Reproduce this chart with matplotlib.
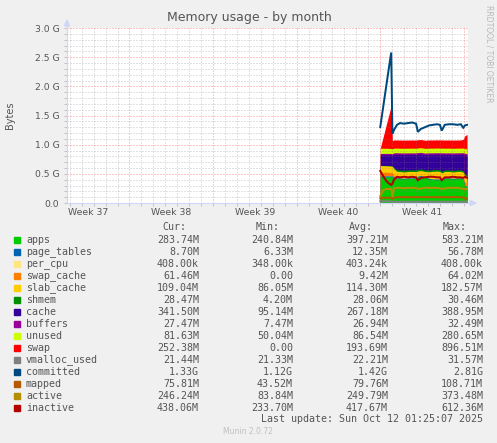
import numpy as np
import matplotlib
matplotlib.use("Agg")
import matplotlib.pyplot as plt
from matplotlib.lines import Line2D
from matplotlib.patches import Polygon, Rectangle

W, H = 497, 443

# time in days, day 0 = first day of week 38
days = [21.00, 21.25, 21.50, 21.75, 21.92, 22.02, 22.15, 22.40, 22.65, 23.00,
        23.33, 23.66, 24.00, 24.15, 24.40, 24.75, 25.10, 25.40, 25.75, 26.00,
        26.15, 26.40, 26.75, 27.10, 27.45, 27.75, 27.95, 28.10, 28.27]

# stacked areas (GiB)
apps = [0.450, 0.450, 0.450, 0.450, 0.450, 0.450, 0.430, 0.420, 0.420, 0.410,
        0.420, 0.420, 0.420, 0.450, 0.460, 0.440, 0.410, 0.400, 0.400, 0.400,
        0.390, 0.420, 0.420, 0.410, 0.420, 0.420, 0.400, 0.290, 0.280]
page_tables = [0.016, 0.016, 0.015, 0.015, 0.015, 0.015, 0.014, 0.012, 0.012, 0.012,
               0.012, 0.012, 0.012, 0.012, 0.012, 0.012, 0.012, 0.012, 0.012, 0.012,
               0.012, 0.012, 0.012, 0.012, 0.012, 0.012, 0.011, 0.009, 0.009]
per_cpu = [0.0004, 0.0004, 0.0004, 0.0004, 0.0004, 0.0004, 0.0004, 0.0004, 0.0004, 0.0004,
           0.0004, 0.0004, 0.0004, 0.0004, 0.0004, 0.0004, 0.0004, 0.0004, 0.0004, 0.0004,
           0.0004, 0.0004, 0.0004, 0.0004, 0.0004, 0.0004, 0.0004, 0.0004, 0.0004]
swap_cache = [0.060, 0.061, 0.062, 0.060, 0.058, 0.055, 0.030, 0.004, 0.003, 0.003,
              0.002, 0.003, 0.003, 0.003, 0.003, 0.002, 0.003, 0.003, 0.003, 0.003,
              0.004, 0.003, 0.003, 0.003, 0.003, 0.003, 0.010, 0.058, 0.060]
slab_cache = [0.115, 0.112, 0.110, 0.110, 0.108, 0.108, 0.110, 0.105, 0.104, 0.106,
              0.105, 0.105, 0.104, 0.082, 0.080, 0.085, 0.110, 0.128, 0.130, 0.126,
              0.110, 0.104, 0.105, 0.106, 0.105, 0.106, 0.106, 0.106, 0.106]
shmem = [0.005, 0.005, 0.005, 0.006, 0.006, 0.006, 0.020, 0.028, 0.028, 0.028,
         0.028, 0.028, 0.028, 0.028, 0.028, 0.028, 0.028, 0.028, 0.028, 0.028,
         0.028, 0.028, 0.028, 0.028, 0.028, 0.028, 0.028, 0.028, 0.028]
cache = [0.180, 0.182, 0.184, 0.184, 0.186, 0.186, 0.230, 0.265, 0.265, 0.272,
         0.265, 0.265, 0.265, 0.262, 0.258, 0.262, 0.270, 0.262, 0.262, 0.265,
         0.290, 0.265, 0.265, 0.272, 0.265, 0.265, 0.280, 0.335, 0.334]
buffers = [0.024, 0.024, 0.025, 0.025, 0.025, 0.025, 0.026, 0.027, 0.027, 0.027,
           0.027, 0.027, 0.027, 0.027, 0.027, 0.027, 0.027, 0.027, 0.027, 0.027,
           0.027, 0.027, 0.027, 0.027, 0.027, 0.027, 0.027, 0.027, 0.027]
unused = [0.090, 0.088, 0.087, 0.086, 0.085, 0.085, 0.080, 0.080, 0.080, 0.080,
          0.080, 0.080, 0.080, 0.080, 0.080, 0.080, 0.080, 0.080, 0.080, 0.080,
          0.080, 0.080, 0.080, 0.080, 0.080, 0.080, 0.080, 0.082, 0.080]
swap = [0.000, 0.200, 0.400, 0.600, 0.740, 0.140, 0.140, 0.140, 0.140, 0.140,
        0.140, 0.140, 0.140, 0.140, 0.140, 0.140, 0.140, 0.140, 0.140, 0.140,
        0.140, 0.140, 0.140, 0.140, 0.140, 0.140, 0.150, 0.220, 0.250]

# lines (GiB)
vmalloc_used = [0.030, 0.030, 0.029, 0.028, 0.028, 0.022, 0.021, 0.021, 0.021, 0.021,
                0.021, 0.021, 0.021, 0.021, 0.021, 0.021, 0.021, 0.021, 0.021, 0.021,
                0.021, 0.021, 0.021, 0.021, 0.021, 0.021, 0.021, 0.021, 0.021]
committed = [1.30, 1.65, 2.00, 2.35, 2.58, 1.19, 1.25, 1.34, 1.37, 1.36,
             1.37, 1.38, 1.36, 1.22, 1.27, 1.30, 1.33, 1.34, 1.35, 1.34,
             1.24, 1.34, 1.35, 1.35, 1.34, 1.35, 1.29, 1.33, 1.34]
mapped = [0.080, 0.090, 0.090, 0.090, 0.090, 0.070, 0.090, 0.100, 0.100, 0.100,
          0.100, 0.100, 0.100, 0.100, 0.100, 0.100, 0.100, 0.100, 0.100, 0.100,
          0.100, 0.100, 0.100, 0.100, 0.100, 0.100, 0.090, 0.080, 0.074]
active = [0.12, 0.22, 0.24, 0.24, 0.24, 0.10, 0.25, 0.26, 0.26, 0.25,
          0.26, 0.26, 0.26, 0.24, 0.25, 0.26, 0.26, 0.26, 0.26, 0.25,
          0.24, 0.25, 0.26, 0.26, 0.26, 0.25, 0.24, 0.24, 0.24]
inactive = [0.55, 0.46, 0.38, 0.33, 0.31, 0.33, 0.40, 0.45, 0.44, 0.45,
            0.44, 0.45, 0.44, 0.39, 0.43, 0.44, 0.45, 0.45, 0.44, 0.44,
            0.39, 0.44, 0.44, 0.45, 0.44, 0.44, 0.43, 0.45, 0.43]

names = ["apps", "page_tables", "per_cpu", "swap_cache", "slab_cache", "shmem",
         "cache", "buffers", "unused", "swap", "vmalloc_used", "committed",
         "mapped", "active", "inactive"]
colors = ["#00CC00", "#0066B3", "#FFE680", "#FF8000", "#FFCC00", "#008F00",
          "#330099", "#990099", "#CCFF00", "#FF0000", "#808080", "#00487D",
          "#B35A00", "#B38F00", "#B30000"]
cur = ["283.74M", "8.70M", "408.00k", "61.46M", "109.04M", "28.47M", "341.50M",
       "27.47M", "81.63M", "252.38M", "21.44M", "1.33G", "75.81M", "246.24M", "438.06M"]
vmin = ["240.84M", "6.33M", "348.00k", "0.00", "86.05M", "4.20M", "95.14M",
        "7.47M", "50.04M", "0.00", "21.33M", "1.12G", "43.52M", "83.84M", "233.70M"]
vavg = ["397.21M", "12.35M", "403.24k", "9.42M", "114.30M", "28.06M", "267.18M",
        "26.94M", "86.54M", "193.69M", "22.21M", "1.42G", "79.76M", "249.79M", "417.67M"]
vmax = ["583.21M", "56.78M", "408.00k", "64.02M", "182.57M", "30.46M", "388.95M",
        "32.49M", "280.65M", "896.51M", "31.57M", "2.81G", "108.71M", "373.48M", "612.36M"]

weeks = ["Week 37", "Week 38", "Week 39", "Week 40", "Week 41"]
week_mid = [-3.5, 3.5, 10.5, 17.5, 24.5]

FONT = "#555555"
AXIS = "#CFD6F8"


def fx(px):
    return px / W


def fy(py):
    return 1 - py / H


fig = plt.figure(figsize=(W / 100, H / 100), dpi=100, facecolor="#F0F0F0")
ax = fig.add_axes([fx(67), fy(203), fx(468) - fx(67), fy(28) - fy(203)])
ax.set_facecolor("white")
x0, x1 = -5.234, 28.35
ax.set_xlim(x0, x1)
ax.set_ylim(0, 3.0)

# stacked areas: paint cumulative tops from highest down so no seams show
stack = [apps, page_tables, per_cpu, swap_cache, slab_cache, shmem, cache,
         buffers, unused, swap]
tops = np.cumsum(np.array(stack), axis=0)
for i in range(len(stack) - 1, -1, -1):
    ax.fill_between(days, 0, tops[i], color=colors[i], lw=0, zorder=2)

# grid (rrdtool draws it over the data), 1px on / 2px off
minor = dict(color=(0.5, 0.5, 0.5, 0.45), lw=0.72, ls=(0, (1, 2)), zorder=3)
major = dict(color=(1.0, 0.13, 0.13, 0.50), lw=0.72, ls=(0, (1, 2)), zorder=3)
for d in range(-5, 29):
    ax.axvline(d, **(major if d % 7 == 0 else minor))
for k in range(1, 31):
    ax.axhline(k / 10, **(major if k % 5 == 0 else minor))

for vals, col in zip([vmalloc_used, committed, mapped, active, inactive], colors[10:]):
    ax.plot(days, vals, color=col, lw=1.44, zorder=4, solid_joinstyle="miter")

for s in ax.spines.values():
    s.set_visible(False)
ax.set_yticks(np.arange(0, 3.01, 0.5))
ax.set_yticklabels(["0.0"] + [f"{v:.1f} G" for v in np.arange(0.5, 3.01, 0.5)])
ax.set_yticks(np.arange(0, 3.01, 0.1), minor=True)
ax.set_xticks(range(-5, 29))
ax.set_xticklabels([])
ax.tick_params(axis="both", which="both", length=2, width=0.7, color="#C0C0C8",
               labelsize=6.7, labelcolor=FONT, pad=3.5)
for m, lab in zip(week_mid, weeks):
    ax.text(m, -9 / 175, lab, transform=ax.get_xaxis_transform(), ha="center",
            va="center", fontsize=6.7, color=FONT)

# axis lines with arrows
fig.add_artist(Line2D([fx(67), fx(67)], [fy(203), fy(24)], color=AXIS, lw=0.8))
fig.add_artist(Line2D([fx(67), fx(471)], [fy(203), fy(203)], color=AXIS, lw=0.8))
fig.add_artist(Polygon([[fx(64.5), fy(26)], [fx(69.5), fy(26)], [fx(67), fy(20)]],
                       closed=True, color=AXIS))
fig.add_artist(Polygon([[fx(470), fy(200.5)], [fx(470), fy(205.5)], [fx(476), fy(203)]],
                       closed=True, color=AXIS))

fig.text(fx(249), fy(18), "Memory usage - by month", ha="center", va="center",
         fontsize=9, color=FONT)
fig.text(fx(10), fy(115), "Bytes", rotation=90, ha="center", va="center",
         fontsize=7, color=FONT)
fig.text(fx(489), fy(5), "RRDTOOL / TOBI OETIKER", rotation=270, ha="center",
         va="top", fontsize=5.5, color="#B8B8B8")

# legend table
mono = dict(family="DejaVu Sans Mono", fontsize=7.2, color=FONT, va="center")
for xr, head in zip([186, 280, 373, 467], ["Cur:", "Min:", "Avg:", "Max:"]):
    fig.text(fx(xr), fy(227.5), head, ha="right", **mono)
for i, name in enumerate(names):
    yy = 240 + 12 * i
    fig.add_artist(Rectangle((fx(14), fy(yy + 3)), 6 / W, 6 / H, color=colors[i],
                             transform=fig.transFigure))
    fig.text(fx(26), fy(yy), name, ha="left", **mono)
    for xr, col in zip([199, 293, 388, 483], [cur, vmin, vavg, vmax]):
        fig.text(fx(xr), fy(yy), col[i], ha="right", **mono)
fig.text(fx(483), fy(419.5), "Last update: Sun Oct 12 01:25:07 2025", ha="right", **mono)
fig.text(fx(248), fy(432), "Munin 2.0.72", ha="center", va="center", fontsize=5.5,
         color="#C0C0C0")

fig.savefig("out.png", dpi=100, facecolor=fig.get_facecolor())
